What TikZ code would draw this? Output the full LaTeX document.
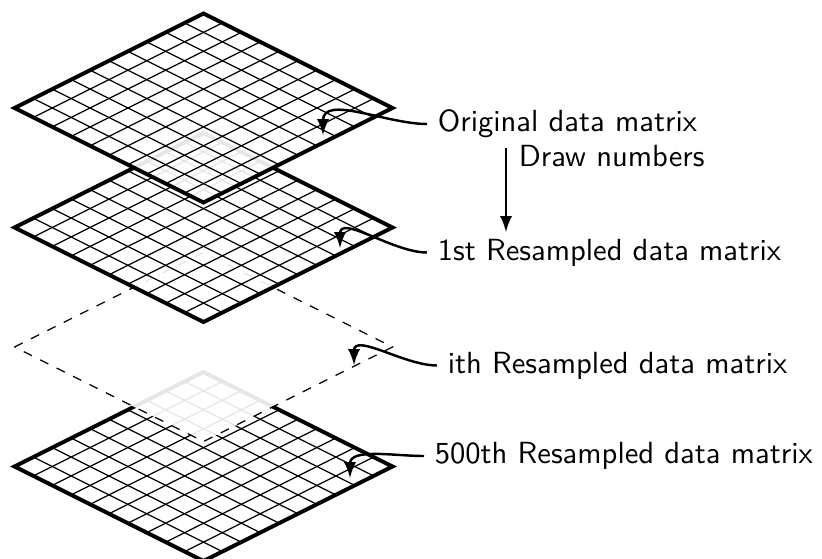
\documentclass[tikz,border=0pt]{standalone}
\usetikzlibrary{arrows}
\newcommand\stackgrid[2]{%
  \fill[layerfill] (#1-189,#2) -- (#1,#2-94.5) -- (#1+189,#2) -- (#1,#2+94.5) -- cycle;
  \foreach \i in {1,...,9}{
    \draw[gridline] (#1-189+18.9*\i, #2-9.45*\i) -- ++(189,94.5);
    \draw[gridline] (#1-189+18.9*\i, #2+9.45*\i) -- ++(189,-94.5);
  }
  \draw[border] (#1-189,#2) -- (#1,#2-94.5) -- (#1+189,#2) -- (#1,#2+94.5) -- cycle;
}
\newcommand\stackdash[2]{%
  \fill[layerfill] (#1-189,#2) -- (#1,#2-94.5) -- (#1+189,#2) -- (#1,#2+94.5) -- cycle;
  \draw[dashborder] (#1-189,#2) -- (#1,#2-94.5) -- (#1+189,#2) -- (#1,#2+94.5) -- cycle;
}
\begin{document}
\begin{tikzpicture}[x=0.327pt,y=-0.327pt,
  layerfill/.style={fill=white,fill opacity=0.9},
  gridline/.style={line width=0.4pt,black},
  border/.style={line width=1.25pt,black},
  dashborder/.style={line width=0.4pt,black,dashed},
  lbl/.style={font=\sffamily,anchor=west,inner sep=3.33pt},
  pointer/.style={-latex,line width=0.8pt}]
\useasboundingbox (0,0) rectangle (822,559);

% layers, bottom to top
\stackgrid{203.5}{466.5}
\stackdash{203.5}{347}
\stackgrid{203.5}{227.5}
\stackgrid{203.5}{108}

% labels
\node[lbl] (t1) at (427,124) {Original data matrix};
\node[lbl] (t2) at (427,252.5) {1st Resampled data matrix};
\node[lbl] (t3) at (437,365.5) {ith Resampled data matrix};
\node[lbl] (t4) at (424,456) {500th Resampled data matrix};
\node[lbl,anchor=base west] (dn) at (508,166) {Draw numbers};

% pointer targets
\coordinate (p1) at (323,135);
\coordinate (p2) at (340,248);
\coordinate (p3) at (354,365);
\coordinate (p4) at (350,478);
\coordinate (dtop) at (506,148);
\coordinate (dbot) at (506,232);

\draw[pointer] (t1.west) to[out=180,in=90] (p1);
\draw[pointer] (t2.west) to[out=180,in=90] (p2);
\draw[pointer] (t3.west) to[out=180,in=90] (p3);
\draw[pointer] (t4.west) to[out=180,in=90] (p4);
\draw[pointer] (dtop) -- (dbot);
\end{tikzpicture}
\end{document}
